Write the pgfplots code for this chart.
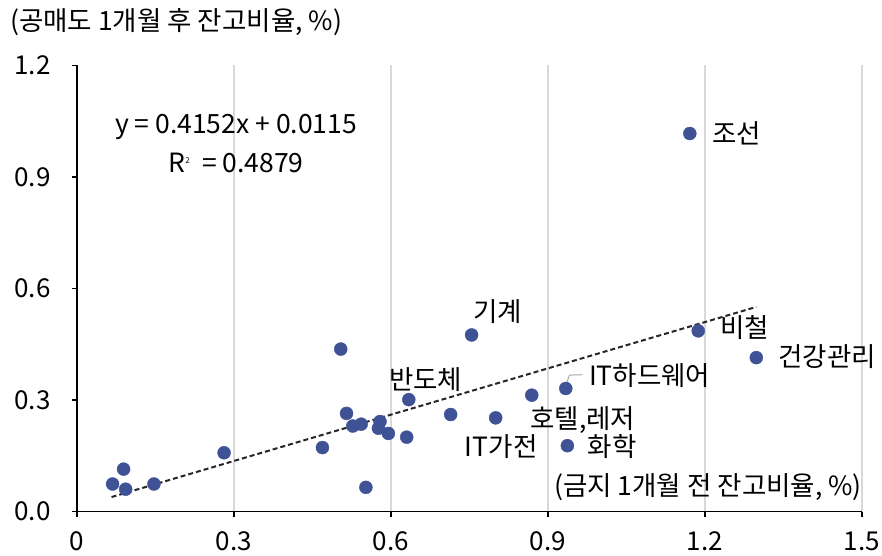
\documentclass[border=0pt]{standalone}
\usepackage{pgfplots}
\pgfplotsset{compat=1.18}
\usepackage{fontspec}
\setmainfont{Noto Sans CJK KR}
\definecolor{dotblue}{RGB}{63,82,150}
\definecolor{gridgray}{RGB}{217,217,217}
\begin{document}
\begin{tikzpicture}[x=1pt,y=1pt]
\useasboundingbox (0,0) rectangle (882,555);
\begin{axis}[
  at={(77pt,43.5pt)}, anchor=south west,
  scale only axis, width=785pt, height=446pt,
  xmin=0, xmax=1.5, ymin=0, ymax=1.2,
  axis lines*=left,
  axis line style={black, line width=1.5pt},
  xtick={0,0.3,0.6,0.9,1.2,1.5},
  ytick={0,0.3,0.6,0.9,1.2},
  xticklabels={0,0.3,0.6,0.9,1.2,1.5},
  yticklabels={0.0,0.3,0.6,0.9,1.2},
  xmajorgrids, grid style={gridgray, line width=1.5pt},
  tick align=outside, major tick length=5pt,
  tick style={black, line width=1.2pt},
  tick label style={font=\fontsize{26}{30}\selectfont},
  xticklabel style={yshift=-12pt},
  yticklabel style={xshift=-18pt},
  clip=false,
]
\addplot[only marks, mark=*, mark size=6.5pt, mark options={fill=dotblue, draw=dotblue}] coordinates {
(0.068,0.074) (0.089,0.114) (0.093,0.060) (0.147,0.074) (0.281,0.158)
(0.469,0.172) (0.504,0.437) (0.515,0.264) (0.527,0.230) (0.543,0.235)
(0.552,0.065) (0.579,0.242) (0.576,0.224) (0.595,0.210) (0.634,0.301)
(0.630,0.200) (0.714,0.261) (0.754,0.475) (0.800,0.252) (0.869,0.313)
(0.934,0.331) (0.937,0.177) (1.171,1.017) (1.187,0.486) (1.298,0.414)
};
\addplot[dash pattern=on 5pt off 3pt, line width=2pt, black!85] coordinates {(0.066,0.0389) (1.298,0.5504)};
\draw[gray!70, line width=1pt] (axis cs:0.936,0.347) -- (axis cs:0.941,0.367) -- (axis cs:0.965,0.368);
\begin{scope}[every node/.style={font=\fontsize{26.5}{30}\selectfont, inner sep=0pt}]
\node[anchor=west] at (axis cs:1.213,1.018) {조선};
\node[anchor=west] at (axis cs:1.229,0.496) {비철};
\node[anchor=west] at (axis cs:1.340,0.416) {건강관리};
\node[anchor=west] at (axis cs:0.757,0.537) {기계};
\node[anchor=west] at (axis cs:0.596,0.354) {반도체};
\node[anchor=west] at (axis cs:0.978,0.367) {IT하드웨어};
\node[anchor=west] at (axis cs:0.866,0.246) {호텔,레저};
\node[anchor=west] at (axis cs:0.741,0.174) {IT가전};
\node[anchor=west] at (axis cs:0.976,0.176) {화학};
\node[anchor=east] at (axis cs:1.5,0.066) {(금지 1개월 전 잔고비율, \%)};
\node at (axis cs:0.304,1.034) {y = 0.4152x + 0.0115};
\node at (axis cs:0.304,0.937) {R\textsuperscript{\fontsize{8}{9}\selectfont 2}\ \ = 0.4879};
\end{scope}
\end{axis}
\node[anchor=west, inner sep=0pt, font=\fontsize{26.5}{30}\selectfont] at (10,533) {(공매도 1개월 후 잔고비율, \%)};
\end{tikzpicture}
\end{document}
